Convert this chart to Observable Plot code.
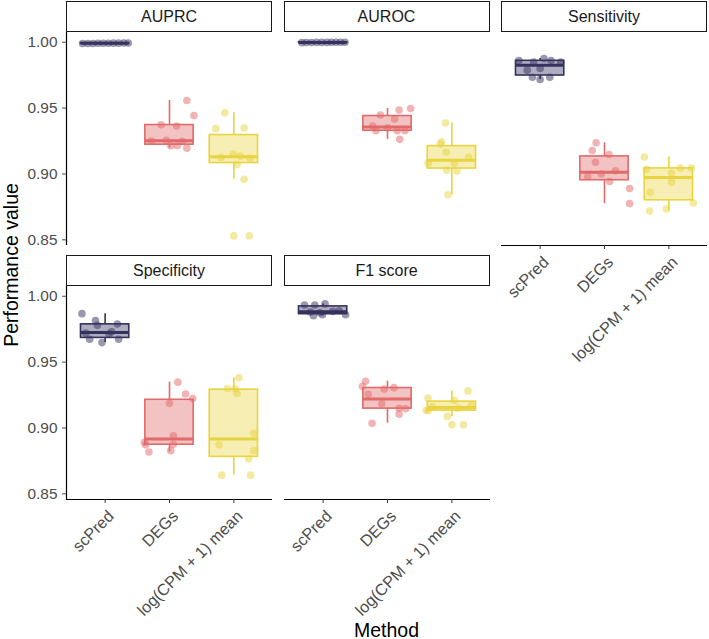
<!DOCTYPE html>
<html><head><meta charset="utf-8">
<script src="https://cdn.jsdelivr.net/npm/d3@7"></script>
<script src="https://cdn.jsdelivr.net/npm/@observablehq/plot@0.6"></script>
<style>
body{margin:0;background:#fff;}
#root{position:relative;width:709px;height:639px;font-family:"Liberation Sans",Arial,sans-serif;overflow:hidden;background:#fff;}
.strip{position:absolute;box-sizing:border-box;border:1.4px solid #1a1a1a;background:#fff;text-align:center;font-size:16px;color:#1a1a1a;}
.panel{position:absolute;}
.title{position:absolute;font-size:19.5px;color:#000;white-space:nowrap;}
</style></head><body><div id="root"></div>
<script>
const methods = ["scPred", "DEGs", "log(CPM + 1) mean"];
const colors = ["#35315F", "#E16A6A", "#E8D43F"];
const metrics = ["AUPRC", "AUROC", "Sensitivity", "Specificity", "F1 score"];
const yTicks = [0.85, 0.90, 0.95, 1.00];

// values per metric, one list per method: [scPred, DEGs, log(CPM + 1) mean]
const auprc = [
  [0.9990, 0.9991, 0.9991, 0.9992, 0.9992, 0.9992, 0.9993, 0.9993, 0.9994, 0.9994],
  [0.9558, 0.9443, 0.9374, 0.9364, 0.9255, 0.9250, 0.9248, 0.9214, 0.9214, 0.9196],
  [0.9464, 0.9344, 0.9349, 0.9150, 0.9137, 0.9125, 0.9119, 0.9071, 0.8959, 0.8530]];
const auroc = [
  [0.9997, 0.9998, 0.9998, 0.9999, 0.9999, 0.9999, 1.0000, 1.0000, 1.0000, 1.0000],
  [0.9497, 0.9485, 0.9447, 0.9418, 0.9364, 0.9328, 0.9328, 0.9328, 0.9263, 0.9350],
  [0.9387, 0.9244, 0.9227, 0.9165, 0.9127, 0.9081, 0.9081, 0.9028, 0.9022, 0.8842]];
const sensitivity = [
  [0.9862, 0.9877, 0.9862, 0.9849, 0.9788, 0.9801, 0.9734, 0.9717, 0.9734, 0.9850],
  [0.9237, 0.9178, 0.9148, 0.9089, 0.9025, 0.8981, 0.8943, 0.8890, 0.8775, 0.9000],
  [0.9129, 0.9035, 0.9045, 0.9045, 0.9007, 0.8938, 0.8861, 0.8780, 0.8719, 0.8734]];
const specificity = [
  [0.9868, 0.9815, 0.9780, 0.9789, 0.9713, 0.9674, 0.9648, 0.9674, 0.9730, 0.9720],
  [0.9348, 0.9258, 0.9223, 0.9187, 0.8940, 0.8891, 0.8872, 0.8876, 0.8818, 0.8828],
  [0.9381, 0.9300, 0.9262, 0.8960, 0.8872, 0.8828, 0.8765, 0.8642, 0.8642, 0.9300]];
const f1score = [
  [0.9934, 0.9934, 0.9942, 0.9852, 0.9860, 0.9860, 0.9880, 0.9885, 0.9890, 0.9875],
  [0.9355, 0.9317, 0.9256, 0.9295, 0.9184, 0.9150, 0.9146, 0.9105, 0.9036, 0.9306],
  [0.9280, 0.9228, 0.9210, 0.9131, 0.9088, 0.9024, 0.9135, 0.9150, 0.9160, 0.9170]];

// horizontal jitter of each point (in category units)
const auprcJit = [
  [-0.35, -0.27, -0.19, -0.11, -0.03, 0.05, 0.13, 0.21, 0.29, 0.36],
  [0.27, 0.38, -0.13, 0.11, -0.05, -0.28, 0.20, 0.02, 0.12, 0.27],
  [-0.14, -0.28, 0.16, -0.01, 0.10, -0.20, 0.25, 0.05, 0.16, 0.24]];
const aurocJit = [
  [-0.33, -0.26, -0.18, -0.10, -0.02, 0.06, 0.13, 0.20, 0.27, 0.34],
  [0.36, 0.18, -0.11, 0.11, -0.23, -0.18, 0.15, 0.27, 0.19, 0.00],
  [-0.10, -0.16, -0.18, -0.09, 0.26, -0.37, 0.04, -0.08, 0.08, -0.06]];
const sensitivityJit = [
  [-0.33, 0.06, 0.17, 0.32, -0.20, 0.00, -0.12, 0.00, 0.15, -0.10],
  [-0.13, -0.19, 0.07, -0.14, 0.17, -0.26, 0.08, 0.39, 0.39, -0.05],
  [-0.38, -0.35, 0.18, 0.35, 0.04, 0.04, -0.29, 0.38, -0.30, -0.04]];
const specificityJit = [
  [-0.36, -0.15, -0.12, 0.19, 0.06, -0.24, -0.05, 0.21, 0.10, -0.30],
  [0.13, 0.25, 0.36, 0.00, 0.06, -0.39, -0.37, 0.06, -0.32, 0.02],
  [0.08, -0.10, 0.05, 0.31, -0.23, 0.31, 0.23, -0.19, 0.26, 0.02]];
const f1scoreJit = [
  [-0.29, -0.13, 0.03, -0.15, -0.01, 0.35, -0.20, 0.15, 0.25, -0.05],
  [-0.34, -0.39, -0.30, -0.05, -0.09, 0.18, 0.28, 0.18, -0.24, 0.10],
  [0.25, -0.37, 0.04, -0.37, -0.07, 0.18, -0.40, 0.10, -0.30, 0.30]];

const panels = [
  {name: metrics[0], vals: auprc, jit: auprcJit, col: 0, row: 0, xaxis: false},
  {name: metrics[1], vals: auroc, jit: aurocJit, col: 1, row: 0, xaxis: false},
  {name: metrics[2], vals: sensitivity, jit: sensitivityJit, col: 2, row: 0, xaxis: true},
  {name: metrics[3], vals: specificity, jit: specificityJit, col: 0, row: 1, xaxis: true},
  {name: metrics[4], vals: f1score, jit: f1scoreJit, col: 1, row: 1, xaxis: true}];

const colX = [66, 283.5, 501];
const rowTop = [32, 286];
const stripTop = [1, 255];
const PW = 206, PH = 213;
const Y0 = 0.8457, Y1 = 1.0074;
const root = document.getElementById("root");

for (const p of panels) {
  const stats = p.vals.map((v, i) => {
    const s = v.slice().sort(d3.ascending);
    const q1 = d3.quantile(s, 0.25), med = d3.quantile(s, 0.5), q3 = d3.quantile(s, 0.75);
    const iqr = q3 - q1;
    const inside = s.filter(d => d >= q1 - 1.5 * iqr && d <= q3 + 1.5 * iqr);
    return {i, x: i + 1, q1, med, q3, lo: d3.min(inside), hi: d3.max(inside),
      out: s.filter(d => d < q1 - 1.5 * iqr || d > q3 + 1.5 * iqr), c: colors[i]};
  });
  const pts = p.vals.flatMap((v, i) => v.map((d, j) => ({x: i + 1 + p.jit[i][j], y: d, c: colors[i]})));
  const outs = stats.flatMap(s => s.out.map(d => ({x: s.x, y: d, c: s.c})));
  const ml = p.col === 0 ? 66 : 0;
  const mb = p.xaxis ? 125 : 0;
  const marks = [
    Plot.ruleX(stats, {x: "x", y1: "q3", y2: "hi", stroke: "c", strokeWidth: 1.6}),
    Plot.ruleX(stats, {x: "x", y1: "lo", y2: "q1", stroke: "c", strokeWidth: 1.6}),
    Plot.rect(stats, {x1: d => d.x - 0.375, x2: d => d.x + 0.375, y1: "q1", y2: "q3",
      fill: "c", fillOpacity: 0.4, stroke: "c", strokeWidth: 1.6}),
    Plot.ruleY(stats, {x1: d => d.x - 0.375, x2: d => d.x + 0.375, y: "med", stroke: "c", strokeWidth: 3}),
    Plot.dot(outs, {x: "x", y: "y", fill: "c", fillOpacity: 0.5, r: 3.8}),
    Plot.dot(pts, {x: "x", y: "y", fill: "c", fillOpacity: 0.5, r: 3.8})
  ];
  if (p.col === 0) {
    marks.push(Plot.ruleX([0.4], {stroke: "#000", strokeWidth: 1.2}));
    marks.push(Plot.axisY(yTicks, {tickFormat: d3.format(".2f"), tickSize: 4, tickPadding: 5,
      fontSize: 15.4, color: "#4d4d4d", label: null}));
  }
  if (p.xaxis) {
    marks.push(Plot.ruleY([Y0], {stroke: "#000", strokeWidth: 1.2}));
    marks.push(Plot.axisX([1, 2, 3], {tickFormat: () => "", tickSize: 4, color: "#333", label: null}));
    marks.push(Plot.text(methods, {x: (d, i) => i + 1, frameAnchor: "bottom", text: d => d,
      rotate: -45, textAnchor: "end", lineAnchor: "middle", dx: 6, dy: 14,
      fontSize: 16.2, fill: "#4d4d4d"}));
  }
  const chart = Plot.plot({
    width: ml + PW, height: PH + mb,
    marginLeft: ml, marginRight: 0, marginTop: 0, marginBottom: mb,
    x: {domain: [0.4, 3.6], axis: null},
    y: {domain: [Y0, Y1], axis: null},
    color: {type: "identity"},
    style: {background: "transparent", overflow: "visible", fontFamily: "Liberation Sans, Arial, sans-serif"},
    marks
  });
  chart.classList.add("panel");
  chart.style.left = (colX[p.col] - ml) + "px";
  chart.style.top = rowTop[p.row] + "px";
  root.appendChild(chart);

  const strip = document.createElement("div");
  strip.className = "strip";
  strip.textContent = p.name;
  Object.assign(strip.style, {left: colX[p.col] + "px", top: stripTop[p.row] + "px",
    width: PW + "px", height: "31px", lineHeight: "29px"});
  root.appendChild(strip);
}

const yt = document.createElement("div");
yt.className = "title";
yt.textContent = "Performance value";
Object.assign(yt.style, {left: "11px", top: "265px", transform: "translate(-50%,-50%) rotate(-90deg)"});
root.appendChild(yt);

const xt = document.createElement("div");
xt.className = "title";
xt.textContent = "Method";
Object.assign(xt.style, {left: "386.5px", top: "630px", transform: "translate(-50%,-50%)"});
root.appendChild(xt);
</script></body></html>
